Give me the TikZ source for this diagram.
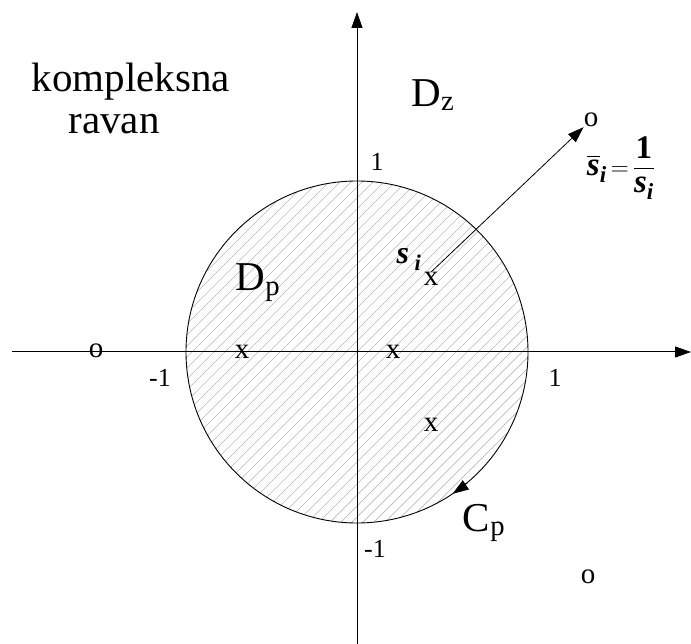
\documentclass[tikz,border=0pt]{standalone}
\usepackage{amsmath}
\usepackage{fontspec}
\setmainfont{Liberation Serif}
\usetikzlibrary{arrows.meta,calc}
\newcommand{\bis}{\hbox{\bfseries\itshape s}}
\newcommand{\bisi}{\hbox{\bfseries\itshape s\textsubscript{i}}}
\begin{document}
\begin{tikzpicture}[x=1pt,y=-1pt,
  axis/.style={line width=1pt,-{Triangle[length=16pt,width=11pt]}},
  big/.style={font=\fontsize{41}{46}\selectfont, inner sep=0pt},
  ticklbl/.style={font=\fontsize{26}{30}\selectfont, inner sep=0pt},
  pmark/.style={font=\fontsize{29}{32}\selectfont, inner sep=0pt}]
\useasboundingbox (0,0) rectangle (691,644);
\coordinate (c) at (357,352);
\coordinate (xl) at (12,352);
\coordinate (xr) at (691,352);
\coordinate (yb) at (357,644);
\coordinate (yt) at (357,12);
% hatched disk
\begin{scope}
  \clip (c) circle[radius=171];
  \foreach \k in {-374,-363,...,374} {
    \draw[gray!55, line width=0.7pt] ($(c)+(\k-200,200)$) -- ($(c)+(\k+200,-200)$);
  }
\end{scope}
\draw[line width=0.9pt] (c) circle[radius=171];
% axes
\draw[axis] (xl) -- (xr);
\draw[axis] (yb) -- (yt);
% arrowhead on circle
\draw[line width=0.9pt,-{Triangle[length=16pt,width=11pt]}] ($(c)+(50:171)$) arc[start angle=50, end angle=56, radius=171];
% marks
\node[pmark] (x1) at (431,279) {x};
\node[pmark] (x2) at (242,352) {x};
\node[pmark] (x3) at (393,352) {x};
\node[pmark] (x4) at (431,425) {x};
\node[pmark] (o1) at (96,351) {o};
\node[pmark] (o2) at (591,120) {o};
\node[pmark] (o3) at (588,577) {o};
% reflection arrow
\draw[line width=0.8pt,-{Triangle[length=16pt,width=11pt]}] (x1.north) -- (o2.south west);
% tick labels
\node[ticklbl] (t1) at (377,162) {1};
\node[ticklbl] (tm1) at (160,378) {-1};
\node[ticklbl] (t1r) at (555,378) {1};
\node[ticklbl] (tm1b) at (375,549) {-1};
% region labels
\node[big] (dz) at (433,95) {D\textsubscript{z}};
\node[big] (dp) at (258,283) {D\textsubscript{p}};
\node[big] (cp) at (484,523) {C\textsubscript{p}};
\node[big,anchor=base] (k1) at (131,92) {kompleksna};
\node[big,anchor=base] (k2) at (114,134) {ravan};
% s_i labels
\node[font=\fontsize{32}{36}\selectfont, inner sep=0pt] (si) at (409,259) {\bfseries\itshape s\,\textsubscript{i}};
\node[font=\fontsize{33}{38}\selectfont, inner sep=0pt] (eq) at (621,168) {$\overline{\bis}\hbox{\bfseries\itshape\textsubscript{i}}\,{=}\,\dfrac{\hbox{\bfseries 1}}{\bisi}$};
\end{tikzpicture}
\end{document}
